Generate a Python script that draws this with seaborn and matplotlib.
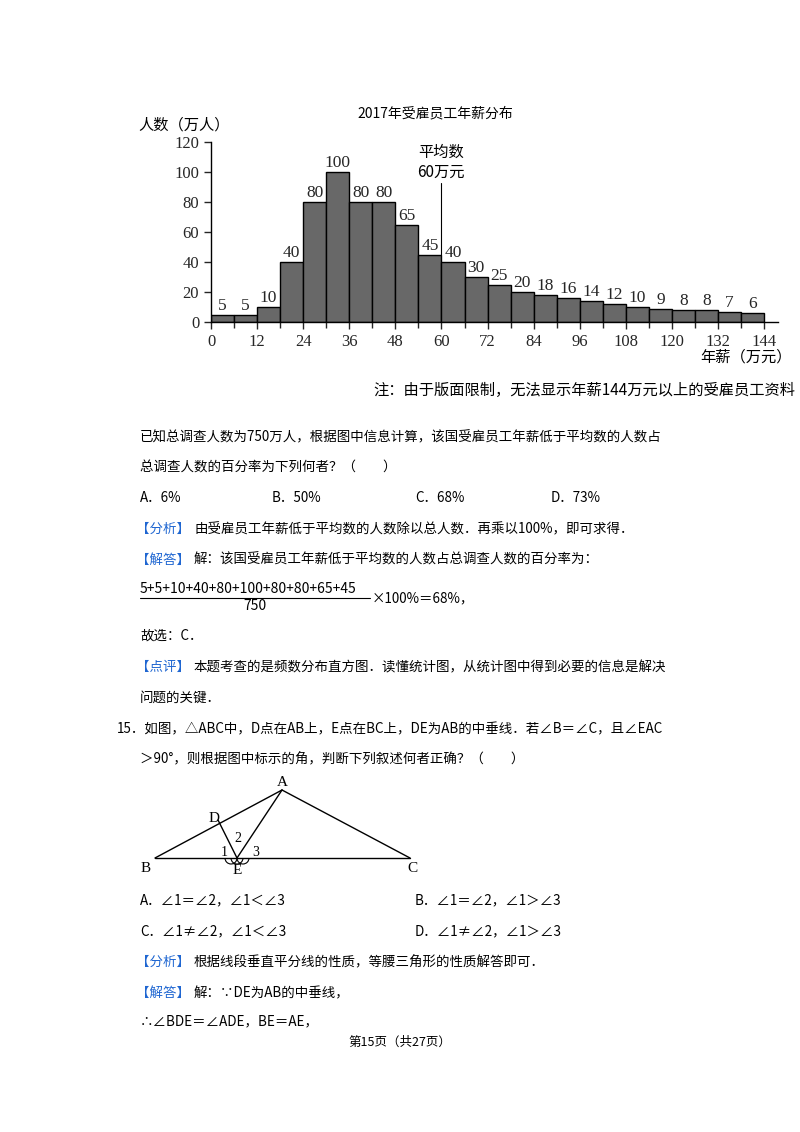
import numpy as np
import pandas as pd
import matplotlib
matplotlib.use("Agg")
import matplotlib.pyplot as plt
import seaborn as sns

bin_starts = list(range(0, 144, 6))
counts = [5, 5, 10, 40, 80, 100, 80, 80, 65, 45, 40, 30, 25, 20, 18, 16, 14, 12, 10, 9, 8, 8, 7, 6]
xticks = list(range(0, 145, 12))
yticks = list(range(0, 121, 20))
mean_value = 60

sns.set_theme(style="white")
CJK = ['Noto Sans CJK SC', 'DejaVu Sans']
SERIF = ['Liberation Serif', 'DejaVu Serif']
plt.rcParams['font.family'] = CJK

fig = plt.figure(figsize=(8, 11.32), dpi=100)
W, H = 800, 1132
def fx(px): return px / W
def fy(py): return 1 - py / H

ax = fig.add_axes([fx(211), fy(322), (778 - 211) / W, (322 - 142) / H])
df = pd.DataFrame({"x": [b + 3 for b in bin_starts], "w": counts})
sns.histplot(data=df, x="x", weights="w", binwidth=6, binrange=(0, 144), ax=ax,
             color="#686868", edgecolor="black", linewidth=1.0, alpha=1)
ax.set_xlim(0, 147.6)
ax.set_ylim(0, 120)
ax.set_xticks(xticks)
ax.set_xticks(bin_starts[1:] + [144], minor=True)
ax.set_yticks(yticks)
ax.tick_params(axis='both', which='major', direction='out', length=5, width=1, bottom=True, left=True, labelsize=12)
ax.tick_params(axis='x', which='minor', direction='out', length=4, width=1, bottom=True)
for lab in ax.get_xticklabels() + ax.get_yticklabels():
    lab.set_family(SERIF)
ax.set_xlabel(""); ax.set_ylabel("")
for s in ["top", "right"]:
    ax.spines[s].set_visible(False)
for s in ["left", "bottom"]:
    ax.spines[s].set_color("black"); ax.spines[s].set_linewidth(1)
for b, c in zip(bin_starts, counts):
    ax.text(b + 3, c + 0.5, str(c), ha='center', va='bottom', fontsize=12.5, family=SERIF)
ax.plot([mean_value, mean_value], [45, 93], color='black', lw=0.8)
ax.grid(False)

ov = fig.add_axes([0, 0, 1, 1])
ov.set_xlim(0, W); ov.set_ylim(H, 0); ov.axis('off')

FS = 9.7
def t(x, y, s, size=FS, color='black', ha='left', family=CJK):
    ov.text(x, y, s, fontsize=size, color=color, ha=ha, va='center', family=family)

t(435, 113, "2017年受雇员工年薪分布", size=10, ha='center')
t(138, 125, "人数（万人）", size=11)
t(441, 152, "平均数", size=11, ha='center')
t(441, 172, "60万元", size=11, ha='center')
t(700, 357, "年薪（万元）", size=11)
t(373, 390, "注：由于版面限制，无法显示年薪144万元以上的受雇员工资料", size=11)

BLUE = "#1f66d1"
t(140, 437, "已知总调查人数为750万人，根据图中信息计算，该国受雇员工年薪低于平均数的人数占")
t(140, 468, "总调查人数的百分率为下列何者？（　　）")
for x, s in [(140, "A．6%"), (272, "B．50%"), (415, "C．68%"), (551, "D．73%")]:
    t(x, 498, s)
t(136, 529, "【分析】", color=BLUE)
t(194, 529, "由受雇员工年薪低于平均数的人数除以总人数．再乘以100%，即可求得．")
t(136, 560, "【解答】", color=BLUE)
t(194, 560, "解：该国受雇员工年薪低于平均数的人数占总调查人数的百分率为：")
t(140, 589, "5+5+10+40+80+100+80+80+65+45", size=10)
ov.plot([140, 370], [598, 598], color='black', lw=0.8)
t(255, 606, "750", size=10, ha='center')
t(372, 598, "×100%＝68%，")
t(140, 636, "故选：C．")
t(136, 667, "【点评】", color=BLUE)
t(194, 667, "本题考查的是频数分布直方图．读懂统计图，从统计图中得到必要的信息是解决")
t(140, 698, "问题的关键．")
t(117, 729, "15．如图，△ABC中，D点在AB上，E点在BC上，DE为AB的中垂线．若∠B＝∠C，且∠EAC")
t(140, 759, "＞90°，则根据图中标示的角，判断下列叙述何者正确？（　　）")

B, E, C, A, D = (155, 858), (237, 858), (410, 858), (282, 790), (218, 820)
for p, q in [(B, C), (B, A), (A, C), (D, E), (A, E)]:
    ov.plot([p[0], q[0]], [p[1], q[1]], color='black', lw=1)
for name, (x, y) in [("A", (282, 783)), ("B", (146, 868)), ("C", (412, 868)), ("D", (214, 818)), ("E", (237, 871))]:
    t(x, y, name, size=11, family=SERIF, ha='center')
t(224, 852, "1", size=10, family=SERIF, ha='center')
t(238, 838, "2", size=10, family=SERIF, ha='center')
t(256, 852, "3", size=10, family=SERIF, ha='center')
from matplotlib.patches import Arc
for cx in [231, 237, 243]:
    ov.add_patch(Arc((cx, 858), 12, 12, theta1=0, theta2=180, color='black', lw=0.8))

t(140, 900, "A．∠1＝∠2，∠1＜∠3"); t(415, 900, "B．∠1＝∠2，∠1＞∠3")
t(140, 931, "C．∠1≠∠2，∠1＜∠3"); t(415, 931, "D．∠1≠∠2，∠1＞∠3")
t(136, 962, "【分析】", color=BLUE)
t(194, 962, "根据线段垂直平分线的性质，等腰三角形的性质解答即可．")
t(136, 993, "【解答】", color=BLUE)
t(194, 993, "解：∵DE为AB的中垂线，")
t(140, 1021, "∴∠BDE＝∠ADE，BE＝AE，")
t(400, 1042, "第15页（共27页）", size=9, ha='center')

fig.savefig("out.png", dpi=100)
